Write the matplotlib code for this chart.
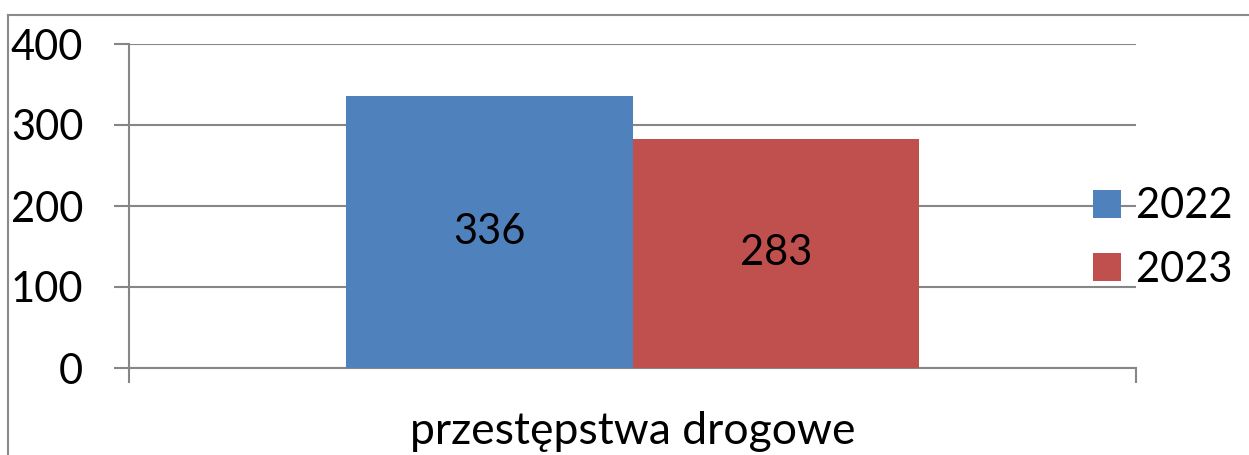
import matplotlib
matplotlib.use("Agg")
import matplotlib.pyplot as plt
from matplotlib.lines import Line2D

categories = ["przestępstwa drogowe"]
series_names = ["2022", "2023"]
values_2022 = [336]
values_2023 = [283]
y_ticks = [0, 100, 200, 300, 400]
colors = ["#4F81BD", "#C0504D"]

plt.rcParams['font.family'] = ['Lato', 'DejaVu Sans']
FS = 30
W, H = 1249, 455
fig = plt.figure(figsize=(W / 100, H / 100), dpi=100)
ax = fig.add_axes([129 / W, 87 / H, 1007 / W, 324 / H])

grid_c = "#868686"
bw = 0.285
x0 = 0
b1 = ax.bar([x0 - bw / 2], values_2022, width=bw, color=colors[0], label=series_names[0], zorder=3)
b2 = ax.bar([x0 + bw / 2], values_2023, width=bw, color=colors[1], label=series_names[1], zorder=3)
ax.bar_label(b1, labels=[str(v) for v in values_2022], label_type='center', fontsize=FS, color='black')
ax.bar_label(b2, labels=[str(v) for v in values_2023], label_type='center', fontsize=FS, color='black')

ax.set_xlim(-0.5, 0.5)
ax.set_ylim(0, 400)
ax.set_yticks(y_ticks)
ax.set_yticklabels([str(t) for t in y_ticks], fontsize=FS)
ax.yaxis.grid(True, color=grid_c, linewidth=1.5, zorder=0)
ax.tick_params(axis='y', length=11, width=1.5, color=grid_c, pad=22)
ax.set_xticks([0])
ax.set_xticklabels(categories, fontsize=32)
ax.set_xticks([-0.5, 0.5], minor=True)
ax.tick_params(axis='x', which='major', length=0, pad=31)
ax.tick_params(axis='x', which='minor', length=11, width=1.5, color=grid_c)
for s in ['top', 'right']:
    ax.spines[s].set_visible(False)
for s in ['left', 'bottom']:
    ax.spines[s].set_color(grid_c)
    ax.spines[s].set_linewidth(1.5)
ax.set_axisbelow(True)

ax.legend(loc='center left', bbox_to_anchor=(1093 / W, 1 - 238 / H),
          bbox_transform=fig.transFigure, frameon=False, fontsize=FS,
          handlelength=0.68, handleheight=0.68, handletextpad=0.35,
          labelspacing=0.6, borderpad=0, borderaxespad=0)

fig.add_artist(Line2D([8 / W, 8 / W], [0, 1 - 15 / H], color="#8a8a8a", linewidth=1.5, transform=fig.transFigure))
fig.add_artist(Line2D([8 / W, 1], [1 - 15 / H, 1 - 15 / H], color="#8a8a8a", linewidth=1.5, transform=fig.transFigure))

fig.savefig("out.png", dpi=100)
